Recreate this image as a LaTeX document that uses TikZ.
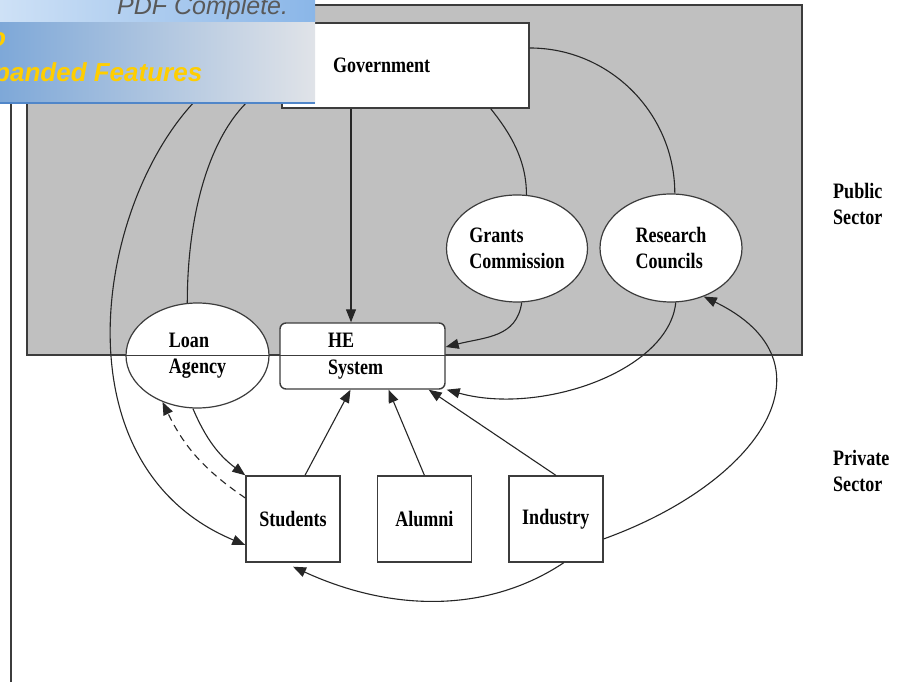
\documentclass[tikz,border=0pt]{standalone}
\usepackage{fontspec}
\setmainfont{Liberation Serif}
\newfontfamily\diagfont[FakeStretch=0.82]{Liberation Serif}
\newfontfamily\bannerfont{Liberation Sans}
\usetikzlibrary{arrows.meta,positioning,shapes.geometric}
\definecolor{sectorgray}{RGB}{192,192,192}
\definecolor{rimgray}{RGB}{60,60,60}
\definecolor{bannertop}{RGB}{206,225,246}
\definecolor{bannertopright}{RGB}{138,182,232}
\definecolor{bannerleft}{RGB}{126,168,216}
\definecolor{bannerright}{RGB}{224,227,232}
\definecolor{bannerline}{RGB}{80,134,201}
\definecolor{upgradeyellow}{RGB}{255,206,0}

\begin{document}
\begin{tikzpicture}[
    x=1pt, y=1pt,
    node distance=36pt,
    txt/.style={font=\diagfont\bfseries\fontsize{22}{26.5}\selectfont, text=black},
    boxnode/.style={txt, draw=rimgray, line width=1.4pt, fill=white, inner sep=0pt},
    sqbox/.style={boxnode, minimum width=94pt, minimum height=86pt},
    oval/.style={txt, ellipse, draw=rimgray, line width=1.2pt, fill=white,
        inner sep=0pt, align=left},
    arr/.style={-{Triangle[length=13pt,width=10pt]}, line width=1.1pt, draw=black!85},
    link/.style={line width=1.1pt, draw=black!85}
    ]
    \path[use as bounding box, fill=white] (0,0) rectangle (912,682);
    \node[draw=rimgray, fill=sectorgray, line width=1.5pt, inner sep=0pt,
        minimum width=775pt, minimum height=350pt] (sector) at (414.5,502) {};
    \draw[rimgray, line width=2.5pt] (11,0) -- (11,682);

    \node[boxnode, minimum height=85pt, text width=145pt, inner xsep=51pt, align=left] (gov) at (405.5,616.5) {Government};
    \node[boxnode, rounded corners=6pt, minimum height=66pt, text width=69pt, inner xsep=48pt, align=left] (he) at (362.5,326) {HE\\System};
    \node[oval, minimum width=141pt, minimum height=107pt] (grants)   at (517,433.5)   {Grants\\Commission};
    \node[oval, minimum width=142pt, minimum height=108pt] (research) at (671,434)     {Research\\Councils};
    \node[oval, minimum width=143pt, minimum height=105pt] (loan)     at (197.5,326.5) {Loan\\Agency};
    \node[sqbox] (students) at (293,163) {Students};
    \node[sqbox, right=of students] (alumni)   {Alumni};
    \node[sqbox, right=of alumni]   (industry) {Industry};
    \node[txt, align=left, anchor=west, inner sep=0pt] (public)  at (833,478) {Public\\Sector};
    \node[txt, align=left, anchor=west, inner sep=0pt] (private) at (833,211) {Private\\Sector};

    \draw[arr] ([xshift=-11.5pt]he.north |- gov.south) -- ([xshift=-11.5pt]he.north);
    \draw[link] ([xshift=-39pt]gov.south east) .. controls +(20,-25) and +(0,35) .. (grants.80);
    \draw[link] ([yshift=17.5pt]gov.east) .. controls +(80,0) and +(0,80) .. (research.86);
    \draw[link] ([yshift=-15pt]gov.west) .. controls +(-60,-20) and +(0,110) .. (loan.101);
    \draw[arr] ([yshift=10pt]gov.west) .. controls +(-152,-6.5) and +(-235,98) .. ([yshift=-26pt]students.west);
    \draw[arr] (grants.-85) .. controls +(-5,-35) and +(40,10) .. ([yshift=9pt]he.east);
    \draw[arr] (research.-85) .. controls +(-7,-69) and +(93,-26) .. ([xshift=1pt]he.south east);
    \draw[arr] ([yshift=-20pt]industry.east) .. controls +(158,57) and +(136,-66) .. (research.-56);
    \draw[arr] ([xshift=8pt]industry.south) .. controls +(-75,-50) and +(100,-46) .. ([yshift=-4pt]students.south);
    \draw[arr] ([xshift=12pt]students.north) -- ([xshift=-12pt]he.south);
    \draw[arr] (alumni.north) -- ([xshift=26pt]he.south);
    \draw[arr] (industry.north) -- ([xshift=-17pt]he.south east);
    \draw[arr] (loan.-95) to[bend right=15] (students.north west);
    \draw[arr, dash pattern=on 7pt off 5pt] ([yshift=21pt]students.west) to[bend left=15] (loan.-127);
    \draw[rimgray, line width=1.5pt] (sector.south west) -- (sector.south east);

    \begin{scope}
        \clip (0,578) rectangle (315,682);
        \shade[left color=bannerleft, right color=bannerright] (0,578) rectangle (315,660);
        \shade[left color=bannertop, right color=bannertopright] (0,660) rectangle (315,682);
        \draw[bannerline, line width=2pt] (0,579) -- (315,579);
        \node[anchor=base west, inner sep=0pt, text=black!65,
            font=\bannerfont\itshape\fontsize{25}{25}\selectfont] (pdfnote) at (117,667) {PDF Complete.};
        \node[anchor=base west, inner sep=0pt, text=upgradeyellow,
            font=\bannerfont\bfseries\itshape\fontsize{26}{26}\selectfont] (upgrade) at (-10,635) {o};
        \node[anchor=base west, inner sep=0pt, text=upgradeyellow,
            font=\bannerfont\bfseries\itshape\fontsize{26}{26}\selectfont] (features) at (-6,600) {panded Features};
    \end{scope}
\end{tikzpicture}
\end{document}
